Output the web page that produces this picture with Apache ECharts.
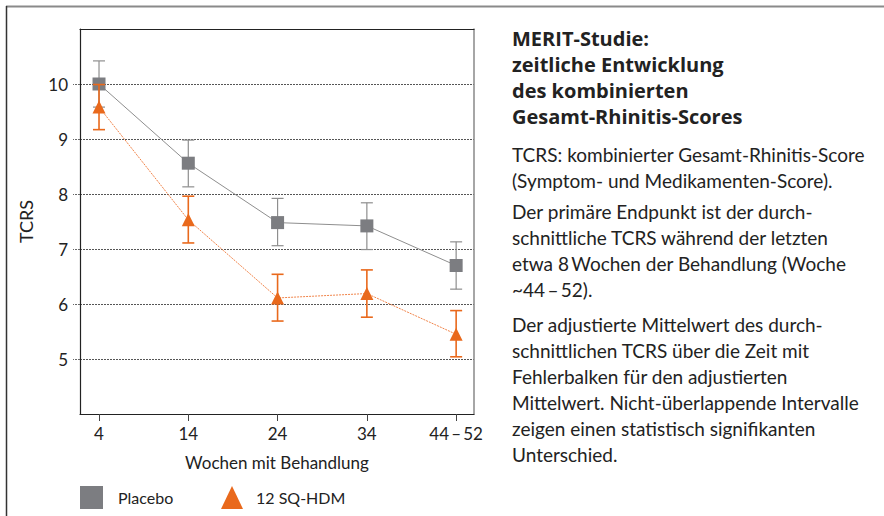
<!DOCTYPE html>
<html>
<head>
<meta charset="utf-8">
<script src="https://cdn.jsdelivr.net/npm/echarts@6/dist/echarts.min.js"></script>
<style>
html,body{margin:0;padding:0;background:#fff;}
#chart{width:884px;height:516px;}
</style>
</head>
<body>
<div id="chart"></div>
<script>
// ---- data ----
var categories = ['4', '14', '24', '34', '44\u2009\u2013\u200952'];
var placebo = [10.0, 8.56, 7.48, 7.42, 6.70];
var placeboLow = [9.58, 8.13, 7.06, 6.99, 6.27];
var placeboHigh = [10.42, 8.98, 7.92, 7.84, 7.13];
var hdm = [9.58, 7.53, 6.11, 6.19, 5.45];
var hdmLow = [9.17, 7.11, 5.69, 5.76, 5.04];
var hdmHigh = [9.99, 7.96, 6.54, 6.62, 5.88];
var yTicks = [5, 6, 7, 8, 9, 10];
var titleLines = ['MERIT-Studie:', 'zeitliche Entwicklung', 'des kombinierten', 'Gesamt-Rhinitis-Scores'];
var bodyLines = [
  'TCRS: kombinierter Gesamt-Rhinitis-Score',
  '(Symptom- und Medikamenten-Score).',
  'Der primäre Endpunkt ist der durch-',
  'schnittliche TCRS während der letzten',
  'etwa 8\u2009Wochen der Behandlung (Woche',
  '~44\u2009\u2013\u200952).',
  'Der adjustierte Mittelwert des durch-',
  'schnittlichen TCRS über die Zeit mit',
  'Fehlerbalken für den adjustierten',
  'Mittelwert. Nicht-überlappende Intervalle',
  'zeigen einen statistisch signifikanten',
  'Unterschied.'
];

var FONT = 'Lato, "Open Sans", sans-serif';
var TFONT = '"Open Sans", Lato, sans-serif';
var GRAY = '#7c7d81';
var GRAYLINE = '#8e8e8e';
var ORANGE = '#e9691c';
var ORANGELINE = '#f0844a';

function pairs(arr) { return arr.map(function (v, i) { return [i, v]; }); }
function errData(lo, hi) { return lo.map(function (v, i) { return [i, v, hi[i]]; }); }

function errRender(color, width) {
  return function (params, api) {
    var x = api.value(0);
    var lo = api.coord([x, api.value(1)]);
    var hi = api.coord([x, api.value(2)]);
    var half = 6;
    var style = { stroke: color, lineWidth: width, fill: null };
    return {
      type: 'group',
      children: [
        { type: 'line', shape: { x1: lo[0], y1: lo[1], x2: hi[0], y2: hi[1] }, style: style },
        { type: 'line', shape: { x1: lo[0] - half, y1: lo[1], x2: lo[0] + half, y2: lo[1] }, style: style },
        { type: 'line', shape: { x1: hi[0] - half, y1: hi[1], x2: hi[0] + half, y2: hi[1] }, style: style }
      ]
    };
  };
}

var graphics = [
  { type: 'line', shape: { x1: 6, y1: 6.5, x2: 884, y2: 6.5 }, style: { stroke: '#8a8a8a', lineWidth: 2 } },
  { type: 'line', shape: { x1: 6.5, y1: 6, x2: 6.5, y2: 516 }, style: { stroke: '#333', lineWidth: 1.5 } }
];
var tTop = [28, 54, 80, 106];
titleLines.forEach(function (t, i) {
  graphics.push({ type: 'text', left: 512, top: tTop[i], style: { text: t, font: 'bold 20px ' + TFONT, fill: '#222' } });
});
var bTop = [145, 171, 202, 228, 254, 280, 315, 341, 367, 393, 419, 445];
bodyLines.forEach(function (t, i) {
  graphics.push({ type: 'text', left: 512, top: bTop[i], style: { text: t, font: '19px ' + FONT, fill: '#222' } });
});

var chart = echarts.init(document.getElementById('chart'), null, { renderer: 'svg' });
chart.setOption({
  animation: false,
  backgroundColor: '#fff',
  grid: { left: 80, top: 29, width: 394, height: 385, containLabel: false },
  xAxis: [{
    type: 'value', min: -0.213, max: 4.2, position: 'bottom',
    name: 'Wochen mit Behandlung', nameLocation: 'middle', nameGap: 40,
    nameTextStyle: { fontFamily: FONT, fontSize: 17, color: '#222' },
    axisLine: { show: true, onZero: false, lineStyle: { color: '#222', width: 1.2 } },
    axisTick: { show: true, customValues: [0, 1, 2, 3, 4], length: 7, inside: false, lineStyle: { color: '#444' } },
    axisLabel: {
      customValues: [0, 1, 2, 3, 4], margin: 11,
      formatter: function (v) { return categories[Math.round(v)]; },
      fontFamily: FONT, fontSize: 17, color: '#222'
    },
    splitLine: { show: false }
  }, {
    type: 'value', min: -0.213, max: 4.2, position: 'top',
    axisLine: { show: true, onZero: false, lineStyle: { color: '#222', width: 1.2 } },
    axisTick: { show: false }, axisLabel: { show: false }, splitLine: { show: false }
  }],
  yAxis: [{
    type: 'value', min: 4, max: 11, interval: 1, position: 'left',
    name: 'TCRS', nameLocation: 'middle', nameGap: 45, nameRotate: 90,
    nameTextStyle: { fontFamily: FONT, fontSize: 18, color: '#222' },
    axisLine: { show: true, onZero: false, lineStyle: { color: '#222', width: 1.2 } },
    axisTick: { show: true, customValues: yTicks, length: 7, lineStyle: { color: '#666', type: [2, 1] } },
    axisLabel: { customValues: yTicks, margin: 12, fontFamily: FONT, fontSize: 17, color: '#222' },
    splitLine: { show: true, lineStyle: { color: '#555', width: 1, type: [2, 1] } }
  }, {
    type: 'value', min: 4, max: 11, position: 'right',
    axisLine: { show: true, onZero: false, lineStyle: { color: '#888', width: 1.5 } },
    axisTick: { show: false }, axisLabel: { show: false }, splitLine: { show: false }
  }],
  legend: [{
    data: [{ name: 'Placebo', icon: 'rect' }],
    left: 80, top: 486, itemWidth: 23, itemHeight: 23, padding: 0,
    textStyle: { fontFamily: FONT, fontSize: 16, color: '#222', padding: [0, 0, 0, 10] }
  }, {
    data: [{ name: '12 SQ-HDM', icon: 'triangle' }],
    left: 221, top: 486, itemWidth: 22, itemHeight: 23, padding: 0,
    textStyle: { fontFamily: FONT, fontSize: 16, color: '#222', padding: [0, 0, 0, 8] }
  }],
  series: [{
    name: 'Placebo', type: 'line', data: pairs(placebo),
    symbol: 'rect', symbolSize: 13,
    itemStyle: { color: GRAY },
    lineStyle: { color: GRAYLINE, width: 1 }, z: 3
  }, {
    name: 'PlaceboErr', type: 'custom', data: errData(placeboLow, placeboHigh),
    renderItem: errRender(GRAYLINE, 1.2), z: 2, silent: true
  }, {
    name: 'HDMErr', type: 'custom', data: errData(hdmLow, hdmHigh),
    renderItem: errRender(ORANGE, 1.6), z: 4, silent: true
  }, {
    name: '12 SQ-HDM', type: 'line', data: pairs(hdm),
    symbol: 'triangle', symbolSize: [13, 13],
    itemStyle: { color: ORANGE },
    lineStyle: { color: ORANGELINE, width: 1, type: [2, 1] }, z: 5
  }],
  graphic: graphics
});
</script>
</body>
</html>
